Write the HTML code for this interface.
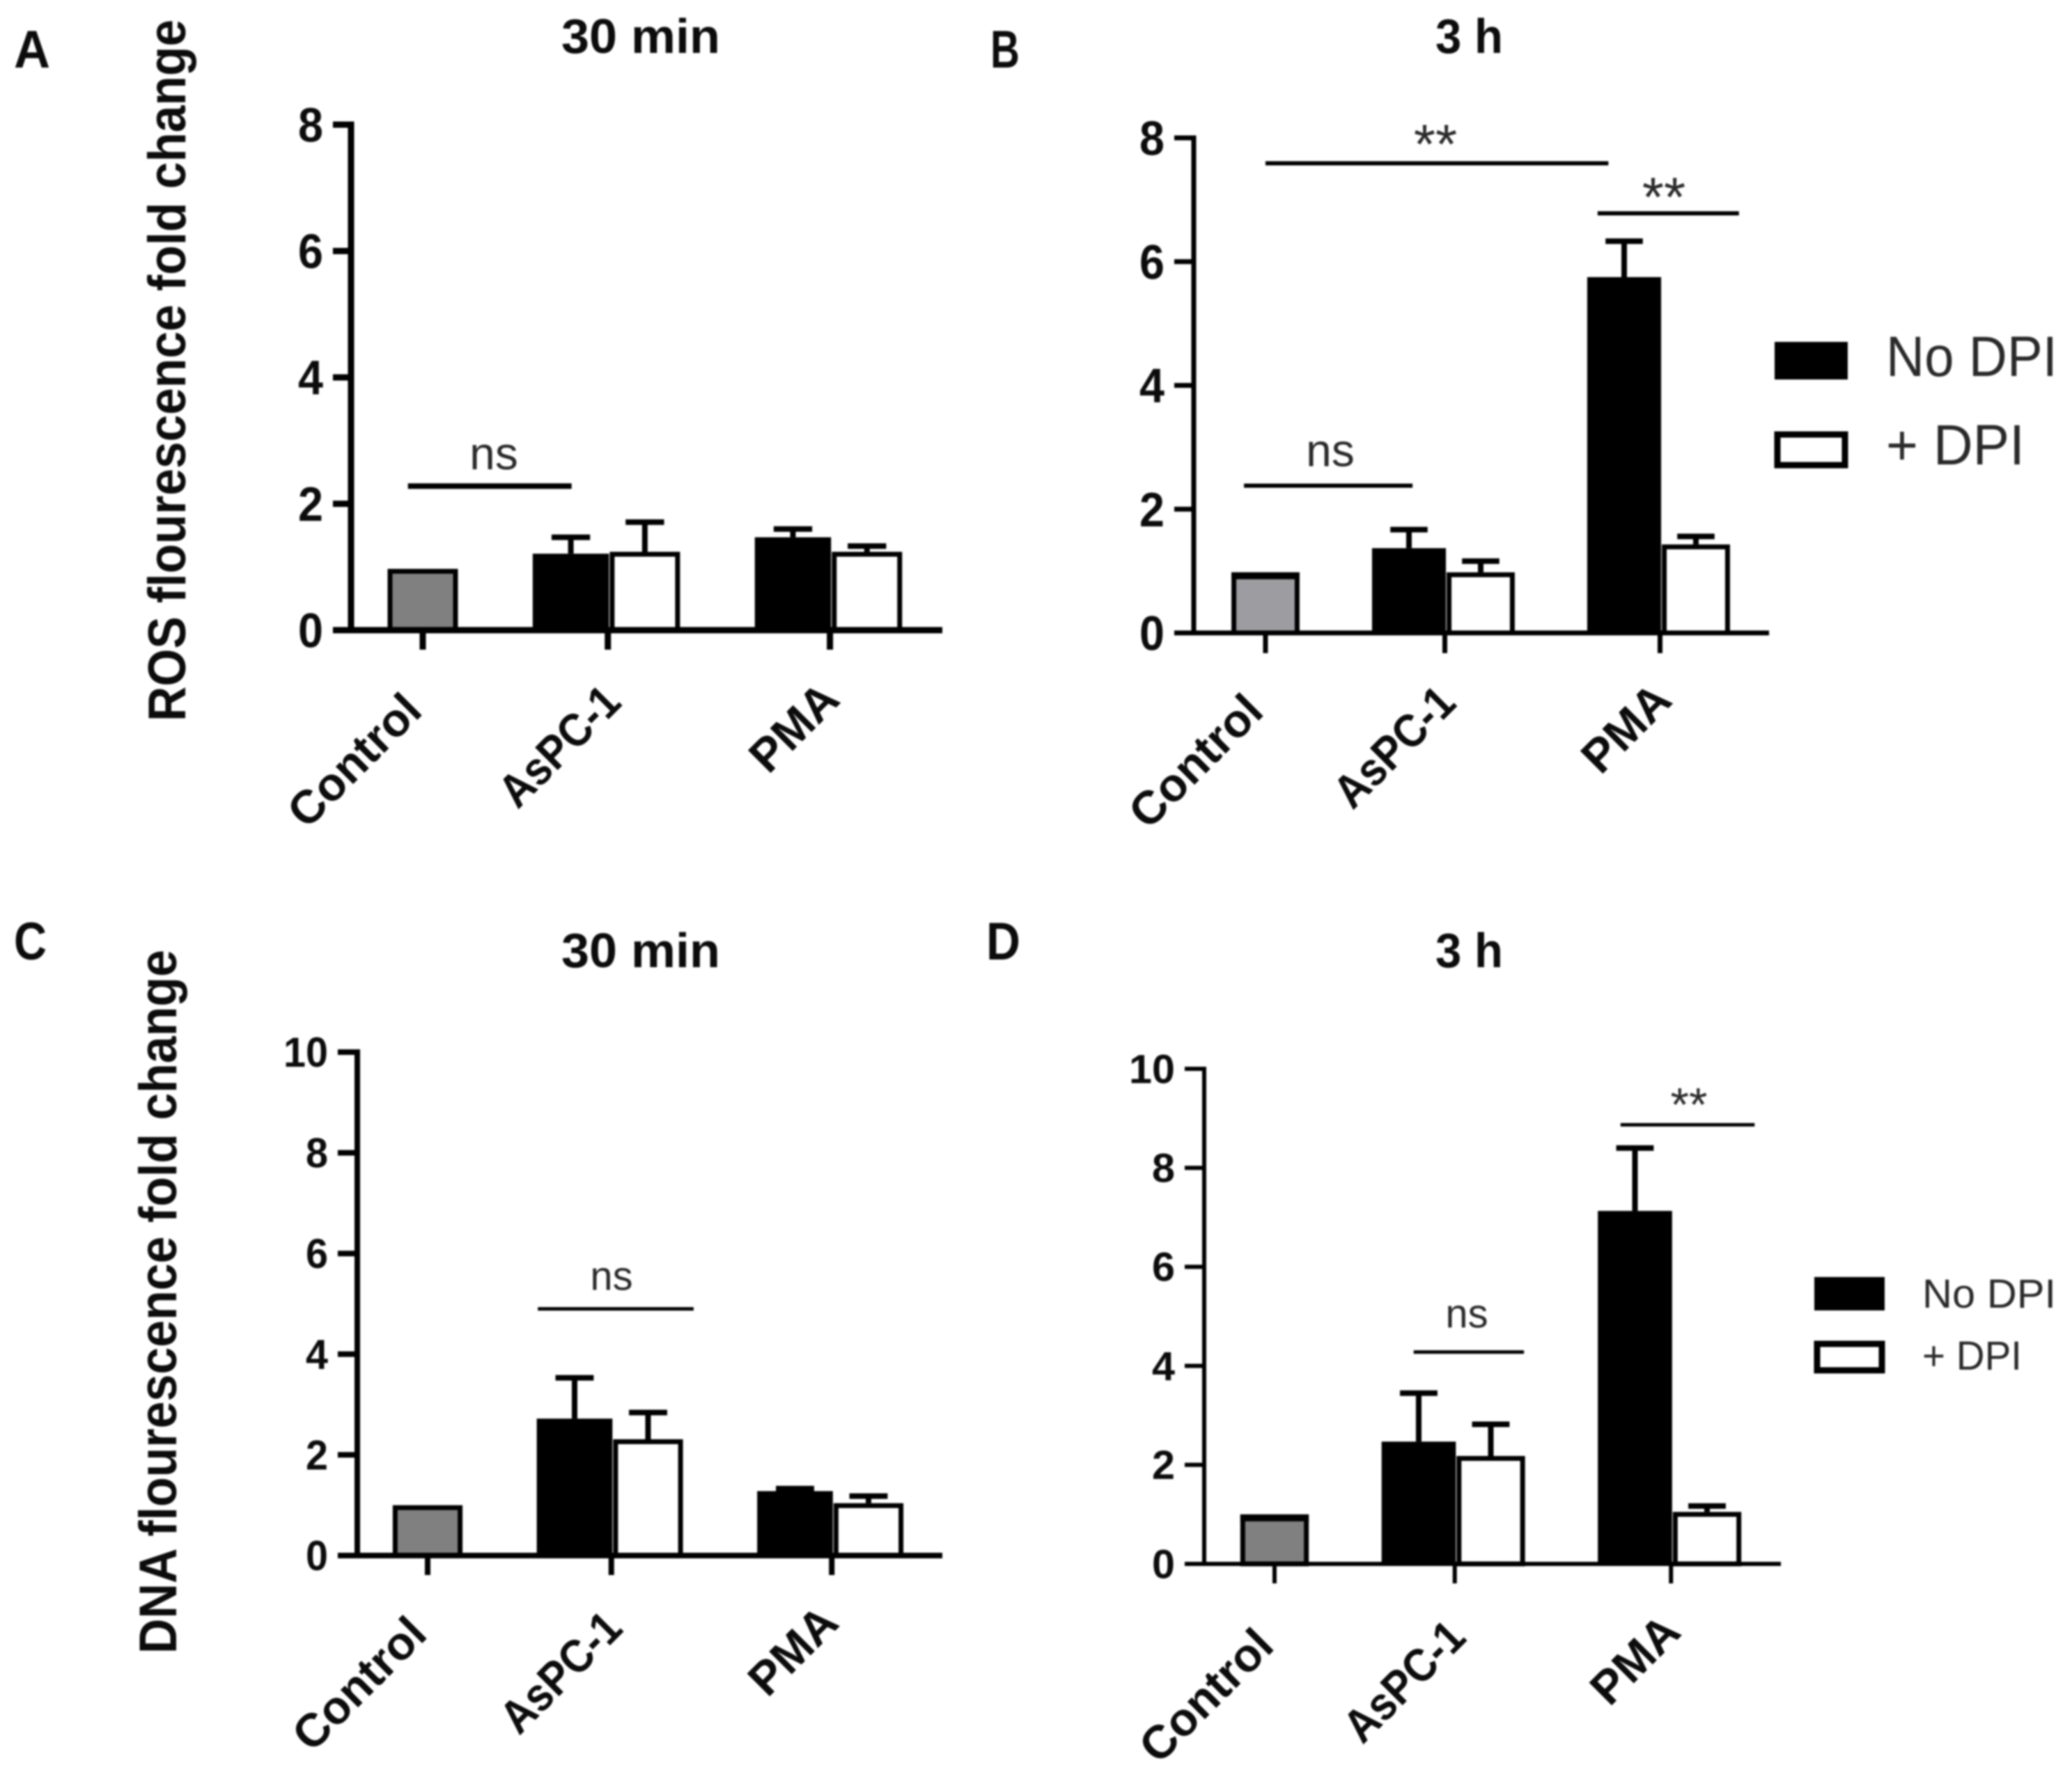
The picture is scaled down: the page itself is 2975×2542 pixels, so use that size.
<!DOCTYPE html>
<html lang="en">
<head>
<meta charset="utf-8">
<title>ROS and DNA fluorescence fold change</title>
<style>
html,body{margin:0;padding:0;background:#fff;}
#figure{display:block;filter:blur(1.3px);font-family:"Liberation Sans",sans-serif;}
.bold{font-weight:700;fill:#0c0c0c;}
.reg{font-weight:400;fill:#2a2a2a;}
</style>
</head>
<body>
<svg id="figure" xmlns="http://www.w3.org/2000/svg" width="2975" height="2542" viewBox="0 0 2975 2542">
  <rect x="0" y="0" width="2975" height="2542" fill="#fff"/>

  <text class="bold" x="20" y="97" font-size="76" textLength="52" lengthAdjust="spacingAndGlyphs">A</text>
  <text class="bold" x="1422" y="97" font-size="76" textLength="42" lengthAdjust="spacingAndGlyphs">B</text>
  <text class="bold" x="20" y="1378" font-size="76" textLength="47" lengthAdjust="spacingAndGlyphs">C</text>
  <text class="bold" x="1416" y="1378" font-size="76" textLength="49" lengthAdjust="spacingAndGlyphs">D</text>

  <text class="bold" x="806" y="76" font-size="70" textLength="228" lengthAdjust="spacingAndGlyphs">30 min</text>
  <text class="bold" x="2061" y="76" font-size="70" textLength="97" lengthAdjust="spacingAndGlyphs">3 h</text>
  <text class="bold" x="806" y="1389" font-size="70" textLength="228" lengthAdjust="spacingAndGlyphs">30 min</text>
  <text class="bold" x="2061" y="1389" font-size="70" textLength="97" lengthAdjust="spacingAndGlyphs">3 h</text>

  <text class="bold" transform="translate(266 1036) rotate(-90)" font-size="76" textLength="1008" lengthAdjust="spacingAndGlyphs">ROS flourescence fold change</text>
  <text class="bold" transform="translate(253 2375) rotate(-90)" font-size="76" textLength="1011" lengthAdjust="spacingAndGlyphs">DNA flourescence fold change</text>

  <g id="panel-a"></g>
  <g id="panel-b"></g>
  <g id="panel-c"></g>
  <g id="panel-d"></g>

  <g>
    <rect x="2548" y="491" width="105" height="54" fill="#000"/>
    <text class="reg" x="2708" y="540" font-size="82" textLength="246" lengthAdjust="spacingAndGlyphs">No DPI</text>
    <rect x="2552" y="624" width="97" height="44" fill="#fff" stroke="#000" stroke-width="9"/>
    <text class="reg" x="2708" y="667" font-size="82" textLength="199" lengthAdjust="spacingAndGlyphs">+ DPI</text>
  </g>
  <g>
    <rect x="2605" y="1834" width="101" height="48" fill="#000"/>
    <text class="reg" x="2760" y="1878" font-size="58" textLength="192" lengthAdjust="spacingAndGlyphs">No DPI</text>
    <rect x="2609" y="1930" width="93" height="38" fill="#fff" stroke="#000" stroke-width="9"/>
    <text class="reg" x="2760" y="1967" font-size="58" textLength="143" lengthAdjust="spacingAndGlyphs">+ DPI</text>
  </g>
</svg>

<script>
const categories = ['Control', 'AsPC-1', 'PMA'];
const rosTicks = [0, 2, 4, 6, 8];
const dnaTicks = [0, 2, 4, 6, 8, 10];

const panelANoDpi = [0.97, 1.21, 1.47];
const panelANoDpiErr = [null, 0.26, 0.13];
const panelAPlusDpi = [null, 1.24, 1.24];
const panelAPlusDpiErr = [null, 0.47, 0.09];

const panelBNoDpi = [0.98, 1.37, 5.75];
const panelBNoDpiErr = [null, 0.30, 0.58];
const panelBPlusDpi = [null, 0.98, 1.43];
const panelBPlusDpiErr = [null, 0.18, 0.13];

const panelCNoDpi = [1.00, 2.72, 1.28];
const panelCNoDpiErr = [null, 0.81, 0.05];
const panelCPlusDpi = [null, 2.31, 1.04];
const panelCPlusDpiErr = [null, 0.53, 0.14];

const panelDNoDpi = [1.00, 2.47, 7.13];
const panelDNoDpiErr = [null, 0.98, 1.27];
const panelDPlusDpi = [null, 2.18, 1.05];
const panelDPlusDpiErr = [null, 0.64, 0.12];

const SVG_NS = 'http://www.w3.org/2000/svg';

function make(tag, attrs, parent) {
  const node = document.createElementNS(SVG_NS, tag);
  Object.keys(attrs).forEach(function (k) { node.setAttribute(k, attrs[k]); });
  parent.appendChild(node);
  return node;
}

function drawPanel(host, cfg, ticks, noDpi, noDpiErr, plusDpi, plusDpiErr) {
  const maxTick = ticks[ticks.length - 1];
  const yScale = function (v) { return cfg.y0 + (cfg.yTop - cfg.y0) * v / maxTick; };
  const xScale = function (slot) { return cfg.x0 + slot * cfg.step; };
  const categorySlot = function (i) { return i === 0 ? 0 : i * 3 - 0.5; };

  const drawError = function (center, value, err, sw) {
    if (err === null) return;
    const stem = make('line', {x1: center, x2: center, y1: yScale(value), y2: yScale(value + err), stroke: '#000', 'stroke-width': sw}, host);
    
    
    const cap = make('line', {x1: center - cfg.step * 0.26, x2: center + cfg.step * 0.26, y1: yScale(value + err), y2: yScale(value + err), stroke: '#000', 'stroke-width': sw}, host);
    
    
  };

  categories.forEach(function (name, i) {
    const slot = categorySlot(i);
    if (i === 0) {
      const half = cfg.step * 0.475;
      const c = xScale(slot);
      const bar = make('rect', {x: c - half + cfg.sw / 2, y: yScale(noDpi[i]) + cfg.sw / 2, width: 2 * half - cfg.sw, height: cfg.y0 - yScale(noDpi[i]) - cfg.sw / 2, fill: cfg.controlFill, stroke: '#000', 'stroke-width': cfg.sw}, host);
      
      
      if (cfg.controlCap) {
        const capBand = make('rect', {x: c - half, y: yScale(noDpi[i]), width: 2 * half, height: cfg.controlCap, fill: '#000'}, host);
        
        
      }
      return;
    }
    const blackCenter = xScale(slot - 0.5);
    const whiteCenter = xScale(slot + 0.5);
    drawError(blackCenter, noDpi[i], noDpiErr[i], cfg.sw + 1);
    drawError(whiteCenter, plusDpi[i], plusDpiErr[i], cfg.sw + 1);
    const blackHalf = cfg.step * 0.515;
    const black = make('rect', {x: blackCenter - blackHalf, y: yScale(noDpi[i]), width: 2 * blackHalf, height: cfg.y0 - yScale(noDpi[i]), fill: '#000'}, host);
    
    
    const whiteHalf = cfg.step * 0.475;
    const white = make('rect', {x: whiteCenter - whiteHalf + cfg.sw / 2, y: yScale(plusDpi[i]) + cfg.sw / 2, width: 2 * whiteHalf - cfg.sw, height: cfg.y0 - yScale(plusDpi[i]) - cfg.sw / 2, fill: '#fff', stroke: '#000', 'stroke-width': cfg.sw}, host);
    
    
  });

  const yAxis = make('line', {x1: cfg.axisX, x2: cfg.axisX, y1: cfg.yTop - cfg.axisSw / 2, y2: cfg.y0 + cfg.axisSw / 2, stroke: '#000', 'stroke-width': cfg.axisSw}, host);
  
  
  const xAxis = make('line', {x1: cfg.axisLeft, x2: cfg.axisRight, y1: cfg.y0, y2: cfg.y0, stroke: '#000', 'stroke-width': cfg.axisSw}, host);
  
  

  ticks.forEach(function (t) {
    const tick = make('line', {x1: cfg.axisLeft, x2: cfg.axisX, y1: yScale(t), y2: yScale(t), stroke: '#000', 'stroke-width': cfg.axisSw}, host);
    
    
    const digits = String(t).length;
    const label = make('text', {x: cfg.axisLeft - 14, y: yScale(t) + cfg.tickFont * 0.35, 'text-anchor': 'end', 'font-size': cfg.tickFont, class: 'bold', textLength: digits * cfg.digitW, lengthAdjust: 'spacingAndGlyphs'}, host);
    
    
    label.textContent = String(t);
  });

  categories.forEach(function (name, i) {
    const cx = xScale(categorySlot(i));
    const tick = make('line', {x1: cx, x2: cx, y1: cfg.y0, y2: cfg.tickBottom, stroke: '#000', 'stroke-width': cfg.axisSw}, host);
    
    
    const lx = cx + cfg.labelShift[i];
    const ly = cfg.y0 + cfg.labelDrop[i];
    const label = make('text', {transform: 'translate(' + lx + ' ' + ly + ') rotate(-45)', 'text-anchor': 'end', 'font-size': 67, class: 'bold'}, host);
    if (i === 1) {
      label.setAttribute('textLength', 214);
      label.setAttribute('lengthAdjust', 'spacingAndGlyphs');
    }
    
    
    label.textContent = name;
  });

  cfg.notes.forEach(function (note) {
    const y = yScale(note.level);
    const line = make('line', {x1: xScale(note.from), x2: xScale(note.to), y1: y, y2: y, stroke: '#000', 'stroke-width': note.sw}, host);
    
    
    const text = make('text', {x: note.cx, y: y + note.dy, 'text-anchor': 'middle', 'font-size': note.font, class: 'reg'}, host);
    
    
    text.textContent = note.label;
  });
}

drawPanel(document.getElementById('panel-a'), {
  x0: 607, step: 106.3, y0: 905, yTop: 179, axisX: 504, axisLeft: 478, axisRight: 1353, tickBottom: 933,
  sw: 7, axisSw: 9, tickFont: 70, digitW: 36, controlFill: '#808080', controlCap: 0,
  labelShift: [2, 22, 17], labelDrop: [119, 107, 103],
  notes: [{label: 'ns', from: -0.2, to: 2.01, level: 2.28, cx: 709, dy: -24, font: 66, sw: 8}]
}, rosTicks, panelANoDpi, panelANoDpiErr, panelAPlusDpi, panelAPlusDpiErr);

drawPanel(document.getElementById('panel-b'), {
  x0: 1817, step: 103, y0: 909, yTop: 198, axisX: 1714, axisLeft: 1686, axisRight: 2540, tickBottom: 938,
  sw: 7, axisSw: 7, tickFont: 70, digitW: 36, controlFill: '#9d9ca1', controlCap: 10,
  labelShift: [0, 19, 20], labelDrop: [116, 104, 100],
  notes: [
    {label: '**', from: 0, to: 4.78, level: 7.59, cx: 2061, dy: 0, font: 80, sw: 6},
    {label: '**', from: 4.63, to: 6.6, level: 6.78, cx: 2389, dy: 4, font: 80, sw: 6},
    {label: 'ns', from: -0.3, to: 2.05, level: 2.38, cx: 1910, dy: -28, font: 66, sw: 6}
  ]
}, rosTicks, panelBNoDpi, panelBNoDpiErr, panelBPlusDpi, panelBPlusDpiErr);

drawPanel(document.getElementById('panel-c'), {
  x0: 614, step: 105.5, y0: 2234, yTop: 1511, axisX: 513, axisLeft: 485, axisRight: 1353, tickBottom: 2262,
  sw: 7, axisSw: 8, tickFont: 60, digitW: 32, controlFill: '#808080', controlCap: 0,
  labelShift: [2, 19, 13], labelDrop: [116, 108, 100],
  notes: [{label: 'ns', from: 1.5, to: 3.62, level: 4.9, cx: 878, dy: -27, font: 58, sw: 5}]
}, dnaTicks, panelCNoDpi, panelCNoDpiErr, panelCPlusDpi, panelCPlusDpiErr);

drawPanel(document.getElementById('panel-d'), {
  x0: 1830, step: 103.5, y0: 2246, yTop: 1535, axisX: 1729, axisLeft: 1701, axisRight: 2557, tickBottom: 2274,
  sw: 7, axisSw: 6, tickFont: 58, digitW: 33, controlFill: '#808080', controlCap: 10,
  labelShift: [2, 19, 17], labelDrop: [121, 109, 101],
  notes: [
    {label: '**', from: 4.8, to: 6.66, level: 8.87, cx: 2425, dy: -6, font: 68, sw: 5},
    {label: 'ns', from: 1.93, to: 3.46, level: 4.28, cx: 2106, dy: -35, font: 58, sw: 5}
  ]
}, dnaTicks, panelDNoDpi, panelDNoDpiErr, panelDPlusDpi, panelDPlusDpiErr);
</script>
</body>
</html>
